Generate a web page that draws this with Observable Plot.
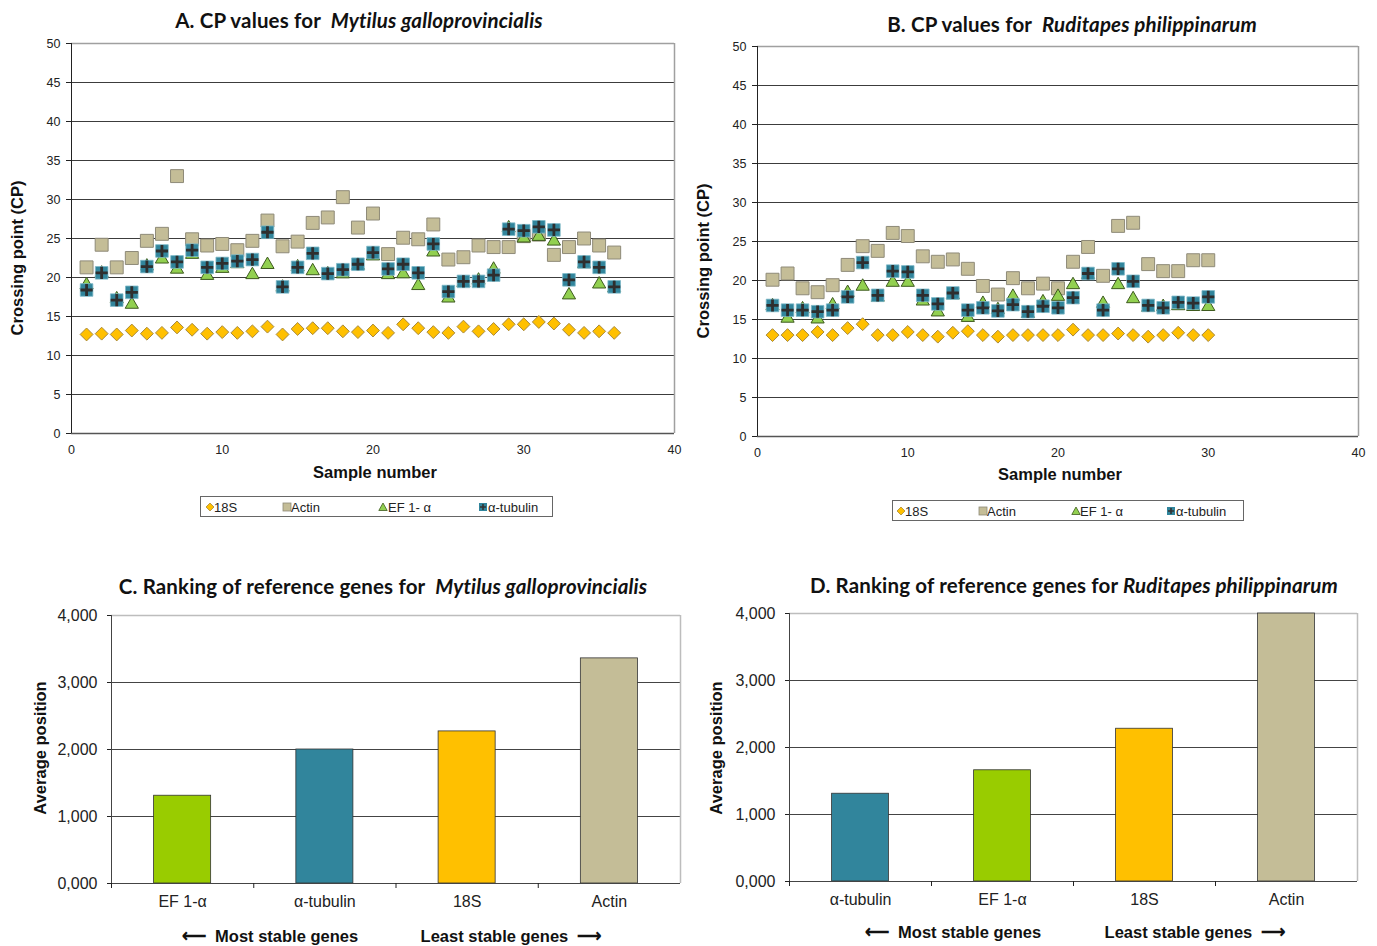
<!DOCTYPE html>
<html><head><meta charset="utf-8">
<script src="https://cdn.jsdelivr.net/npm/d3@7"></script>
<script src="https://cdn.jsdelivr.net/npm/@observablehq/plot@0.6"></script>
<style>
body{margin:0;background:#fff;}
#root{position:relative;width:1377px;height:946px;overflow:hidden;font-family:"Liberation Sans",Arial,sans-serif;color:#222;}
.abs{position:absolute;white-space:nowrap;}
.title{font-family:Lato,"Open Sans",sans-serif;font-weight:bold;font-size:20.5px;letter-spacing:0.15px;color:#111;transform:translate(-50%,-50%);}
.axl{font-weight:bold;font-size:16.5px;color:#111;transform:translate(-50%,-50%);}
.rot{transform:translate(-50%,-50%) rotate(-90deg);}
.legend{border:1px solid #666;box-sizing:border-box;font-size:13px;color:#222;}
.legend span{position:absolute;top:50%;transform:translateY(-50%);}
.legend svg{position:absolute;top:50%;transform:translate(-50%,-50%);}
</style></head>
<body><div id="root"></div>
<script>
// ---------- data ----------
const samplesA = [1,2,3,4,5,6,7,8,9,10,11,12,13,14,15,16,17,18,19,20,21,22,23,24,25,26,27,28,29,30,31,32,33,34,35,36];
const a18S  = [12.7,12.8,12.7,13.2,12.8,12.9,13.6,13.3,12.8,13.0,12.9,13.1,13.7,12.7,13.4,13.5,13.5,13.1,13.0,13.2,12.9,14.0,13.5,13.0,12.9,13.7,13.1,13.4,14.0,14.0,14.3,14.1,13.3,12.9,13.1,12.9];
const aActin = [21.3,24.2,21.3,22.5,24.7,25.6,33.0,24.9,24.1,24.3,23.5,24.7,27.3,24.0,24.6,27.0,27.7,30.3,26.4,28.2,23.0,25.1,24.9,26.8,22.3,22.6,24.1,23.9,23.9,25.3,25.5,22.9,23.9,25.0,24.1,23.2];
const aEF   = [19.3,20.8,17.5,16.8,21.7,22.6,21.3,23.2,20.5,21.4,22.0,20.6,21.9,19.0,21.6,21.1,20.7,20.7,21.8,23.0,20.6,20.7,19.2,23.5,17.6,19.6,19.9,21.3,26.6,25.3,25.5,24.9,18.0,22.0,19.4,18.9];
const aTub  = [18.4,20.6,17.1,18.1,21.4,23.4,22.0,23.5,21.3,21.8,22.1,22.3,25.8,18.8,21.3,23.1,20.5,21.0,21.7,23.2,21.1,21.7,20.6,24.3,18.2,19.5,19.5,20.3,26.2,26.0,26.5,26.1,19.7,22.0,21.3,18.8];

const samplesB = [1,2,3,4,5,6,7,8,9,10,11,12,13,14,15,16,17,18,19,20,21,22,23,24,25,26,27,28,29,30];
const b18S  = [13.0,13.0,13.0,13.4,13.0,13.9,14.4,13.0,13.0,13.4,13.0,12.8,13.3,13.5,13.0,12.8,13.0,13.0,13.0,13.0,13.7,13.0,13.0,13.2,13.0,12.8,13.0,13.3,13.0,13.0];
const bActin = [20.1,20.9,19.0,18.5,19.4,22.0,24.4,23.8,26.1,25.7,23.1,22.4,22.7,21.5,19.3,18.2,20.3,19.0,19.6,19.0,22.4,24.3,20.6,27.0,27.4,22.1,21.2,21.2,22.6,22.6];
const bEF   = [17.0,15.4,16.6,15.3,17.1,18.7,19.5,18.1,20.0,20.0,17.6,16.2,18.4,15.5,17.3,16.5,18.2,16.0,17.5,18.2,19.7,21.0,17.3,19.7,17.9,16.8,16.9,17.0,16.9,16.9];
const bTub  = [16.8,16.2,16.2,16.0,16.2,17.9,22.3,18.1,21.2,21.1,18.1,17.0,18.4,16.2,16.5,16.1,16.9,16.0,16.7,16.5,17.8,20.9,16.2,21.5,19.9,16.8,16.5,17.2,17.1,17.9];

const cpYTicks = [0,5,10,15,20,25,30,35,40,45,50];
const cpXTicks = [0,10,20,30,40];

const cGenes  = ["EF 1-α","α-tubulin","18S","Actin"];
const cValues = [1.31, 2.00, 2.27, 3.36];
const dGenes  = ["α-tubulin","EF 1-α","18S","Actin"];
const dValues = [1.31, 1.66, 2.28, 4.00];
const rankTicks = [0,1,2,3,4];

const geneColors = {"18S":"#FFC000","Actin":"#C4BD97","EF 1-α":"#99CC00","α-tubulin":"#31859C"};

// ---------- helpers ----------
const root = document.getElementById("root");
function place(el, x, y){ const d=document.createElement("div"); d.className="abs"; d.style.left=x+"px"; d.style.top=y+"px"; d.appendChild(el); root.appendChild(d); return d; }
function text(html, cls, x, y){ const d=document.createElement("div"); d.className="abs "+cls; d.style.left=x+"px"; d.style.top=y+"px"; d.innerHTML=html; root.appendChild(d); return d; }

const baseStyle = {fontFamily:'"Liberation Sans", Arial, sans-serif', fontSize:"12.5px", color:"#222", background:"transparent", overflow:"visible"};

function cpChart(samples, s18, act, ef, tub, dims){
  const rows = vals => vals.map((v,i)=>({sample:samples[i], cp:v}));
  const marks = [
    Plot.ruleY(cpYTicks.slice(1,-1), {stroke:"#3c3c3c", strokeWidth:1}),
    Plot.ruleY([cpYTicks[cpYTicks.length-1]], {stroke:"#a0a0a0", strokeWidth:1.5}),
    Plot.ruleY([cpYTicks[0]], {stroke:"#555", strokeWidth:1.5}),
    Plot.ruleX([cpXTicks[cpXTicks.length-1]], {stroke:"#a0a0a0", strokeWidth:1.5}),
    Plot.ruleX([cpXTicks[0]], {stroke:"#222"}),
    Plot.axisY({ticks:cpYTicks, tickSize:5, tickPadding:6, label:null}),
    Plot.axisX({ticks:cpXTicks, tickSize:0, tickPadding:12, label:null}),
    Plot.dot(rows(s18), {x:"sample", y:"cp", symbol:d3.symbolDiamond2, r:5.8, fill:"#FFC000", stroke:"#A8893A", strokeWidth:1}),
    Plot.dot(rows(act), {x:"sample", y:"cp", symbol:d3.symbolSquare, r:7.3, fill:"#C4BD97", stroke:"#8E8A78", strokeWidth:1}),
    Plot.dot(rows(ef), {x:"sample", y:"cp", symbol:d3.symbolTriangle, r:4.9, dy:2, fill:"#92D050", stroke:"#3D5A1E", strokeWidth:1}),
    Plot.dot(rows(tub), {x:"sample", y:"cp", symbol:d3.symbolSquare, r:7.1, fill:"#31859C", stroke:"#7DB9C8", strokeWidth:0.8}),
    Plot.dot(rows(tub), {x:"sample", y:"cp", symbol:d3.symbolPlus, r:4, fill:"none", stroke:"#2e2e2e", strokeWidth:2.8})
  ];
  return Plot.plot({
    width:dims.width, height:dims.height,
    marginLeft:dims.ml, marginRight:dims.mr, marginTop:dims.mt, marginBottom:dims.mb,
    x:{domain:[cpXTicks[0], cpXTicks[cpXTicks.length-1]]},
    y:{domain:[cpYTicks[0], cpYTicks[cpYTicks.length-1]]},
    style:baseStyle,
    marks
  });
}

function rankChart(genes, values, dims){
  const rows = genes.map((g,i)=>({i, gene:g, value:values[i], color:geneColors[g]}));
  const fmt = d => d.toFixed(3).replace(".", ",");
  return Plot.plot({
    width:dims.width, height:dims.height,
    marginLeft:dims.ml, marginRight:dims.mr, marginTop:dims.mt, marginBottom:dims.mb,
    x:{domain:[0, genes.length]},
    y:{domain:[rankTicks[0], rankTicks[rankTicks.length-1]]},
    color:{type:"identity"},
    style:{...baseStyle, fontSize:"16px"},
    marks:[
      Plot.ruleY(rankTicks.slice(1,-1), {stroke:"#444", strokeWidth:1}),
      Plot.ruleY([rankTicks[rankTicks.length-1]], {stroke:"#bdbdbd", strokeWidth:1.5}),
      Plot.ruleX([genes.length], {stroke:"#bdbdbd", strokeWidth:1.5}),
      Plot.rectY(rows, {x1:"i", x2:d=>d.i+1, y:"value", fill:"color", stroke:"#333", strokeWidth:0.8, insetLeft:42.6, insetRight:42.6}),
      Plot.ruleY([0], {stroke:"#444", strokeWidth:1}),
      Plot.ruleX([0], {stroke:"#444", strokeWidth:1}),
      Plot.axisY({ticks:rankTicks, tickFormat:fmt, tickSize:4, tickPadding:10, label:null}),
      Plot.axisX({ticks:genes.map((g,i)=>i), tickFormat:()=>"", tickSize:5, label:null}),
      Plot.axisX({ticks:genes.map((g,i)=>i+0.5), tickFormat:d=>genes[Math.round(d-0.5)], tickSize:0, tickPadding:12, label:null})
    ]
  });
}

function symbolSvg(kind){
  const s = {
    diamond:'<svg width="10" height="10"><path d="M5 1L9 5L5 9L1 5Z" fill="#FFC000" stroke="#A8893A" stroke-width="0.8"/></svg>',
    square:'<svg width="10" height="10"><rect x="1" y="1" width="8" height="8" fill="#C4BD97" stroke="#8E8A78" stroke-width="0.8"/></svg>',
    triangle:'<svg width="10" height="10"><path d="M5 1L9.2 8.5L0.8 8.5Z" fill="#92D050" stroke="#3D5A1E" stroke-width="0.8"/></svg>',
    tub:'<svg width="10" height="10"><rect x="1" y="1" width="8" height="8" fill="#31859C"/><path d="M5 2V8M2 5H8" stroke="#333" stroke-width="1.6"/></svg>'
  };
  return s[kind];
}
function legend(x, y, w, h, items){
  const box = document.createElement("div");
  box.className = "abs legend";
  Object.assign(box.style, {left:x+"px", top:y+"px", width:w+"px", height:h+"px"});
  items.forEach(it=>{
    const sym = document.createElement("div");
    sym.innerHTML = symbolSvg(it.kind);
    const sv = sym.firstChild; sv.style.left = it.sx+"px"; box.appendChild(sv);
    const sp = document.createElement("span"); sp.textContent = it.label; sp.style.left = it.tx+"px"; box.appendChild(sp);
  });
  root.appendChild(box);
}

// ---------- panel A ----------
place(cpChart(samplesA, a18S, aActin, aEF, aTub, {width:690, height:490, ml:71, mr:16, mt:43, mb:57}), 0, 0);
text('A. CP values for &nbsp;<i>Mytilus galloprovincialis</i>', "title", 359, 20);
text('Crossing point (CP)', "axl rot", 17, 258);
text('Sample number', "axl", 375, 472);
legend(200, 496, 353, 21, [
  {kind:"diamond", sx:9, label:"18S", tx:13},
  {kind:"square", sx:86, label:"Actin", tx:90},
  {kind:"triangle", sx:182, label:"EF 1- α", tx:187},
  {kind:"tub", sx:282, label:"α-tubulin", tx:287}
]);

// ---------- panel B ----------
place(cpChart(samplesB, b18S, bActin, bEF, bTub, {width:687, height:490, ml:67, mr:19, mt:46, mb:54}), 690, 0);
text('B. CP values for &nbsp;<i>Ruditapes philippinarum</i>', "title", 1072, 24);
text('Crossing point (CP)', "axl rot", 703, 261);
text('Sample number', "axl", 1060, 474);
legend(892, 500, 352, 21, [
  {kind:"diamond", sx:8, label:"18S", tx:12},
  {kind:"square", sx:90, label:"Actin", tx:94},
  {kind:"triangle", sx:183, label:"EF 1- α", tx:187},
  {kind:"tub", sx:278, label:"α-tubulin", tx:283}
]);

// ---------- panel C ----------
place(rankChart(cGenes, cValues, {width:690, height:386, ml:111, mr:10, mt:55, mb:63}), 0, 560);
text('C. Ranking of reference genes for &nbsp;<i>Mytilus galloprovincialis</i>', "title", 383, 586);
text('Average position', "axl rot", 40, 748);
text('⟵&nbsp; Most stable genes', "axl", 270, 936);
text('Least stable genes &nbsp;⟶', "axl", 511, 936);

// ---------- panel D ----------
place(rankChart(dGenes, dValues, {width:687, height:386, ml:99, mr:20, mt:53, mb:65}), 690, 560);
text('D. Ranking of reference genes for <i>Ruditapes philippinarum</i>', "title", 1074, 585);
text('Average position', "axl rot", 716, 748);
text('⟵&nbsp; Most stable genes', "axl", 953, 932);
text('Least stable genes &nbsp;⟶', "axl", 1195, 932);
</script>
</body></html>
